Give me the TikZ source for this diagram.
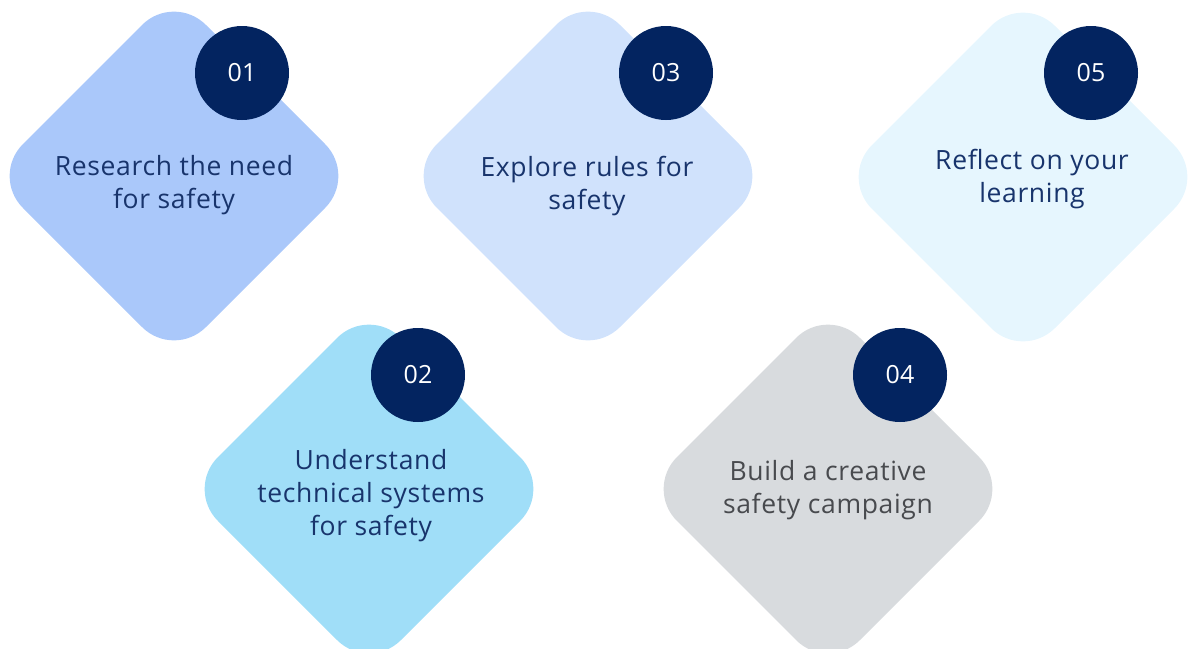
\documentclass[tikz,border=0pt]{standalone}
\usepackage{fontspec}
\setmainfont{Open Sans}
\definecolor{fillA}{RGB}{170,200,250}
\definecolor{fillB}{RGB}{160,222,248}
\definecolor{fillC}{RGB}{208,226,252}
\definecolor{fillD}{RGB}{216,219,222}
\definecolor{fillE}{RGB}{230,246,254}
\definecolor{navy}{RGB}{3,36,96}
\definecolor{labelblue}{RGB}{24,52,108}
\definecolor{labelgray}{RGB}{72,74,78}
\begin{document}
\begin{tikzpicture}[x=1pt,y=-1pt,
  badge/.style={circle,fill=navy,minimum size=94pt,inner sep=0pt,text=white,
    font=\fontsize{25}{28}\selectfont},
  steptext/.style={align=center,text=labelblue,inner sep=0pt,
    font=\fontsize{26.5}{33}\selectfont\addfontfeature{LetterSpace=2.5}},
  tile/.style={rounded corners=45pt}]
\useasboundingbox (0,0) rectangle (1193,648);
% rounded diamond tiles: centre (x,y), half diagonal 183
\def\tilepath#1#2#3{\fill[tile,#3] (#1,#2-183) -- (#1+183,#2) -- (#1,#2+183) -- (#1-183,#2) -- cycle;}
\tilepath{174}{176}{fillA}
\tilepath{588}{176}{fillC}
\tilepath{1023}{177}{fillE}
\tilepath{369}{489}{fillB}
\tilepath{828}{489}{fillD}
% number badges
\node[badge] (b1) at (242,73) {01};
\node[badge] (b3) at (666,73) {03};
\node[badge] (b5) at (1091,73) {05};
\node[badge] (b2) at (418,375) {02};
\node[badge] (b4) at (900,375) {04};
% step descriptions
\node[steptext] (t1) at (174,185) {Research the need\\for safety};
\node[steptext] (t3) at (587,186) {Explore rules for\\safety};
\node[steptext] (t5) at (1032,179) {Reflect on your\\learning};
\node[steptext] (t2) at (371,496) {Understand\\technical systems\\for safety};
\node[steptext,text=labelgray] (t4) at (828,490) {Build a creative\\safety campaign};
\end{tikzpicture}
\end{document}
